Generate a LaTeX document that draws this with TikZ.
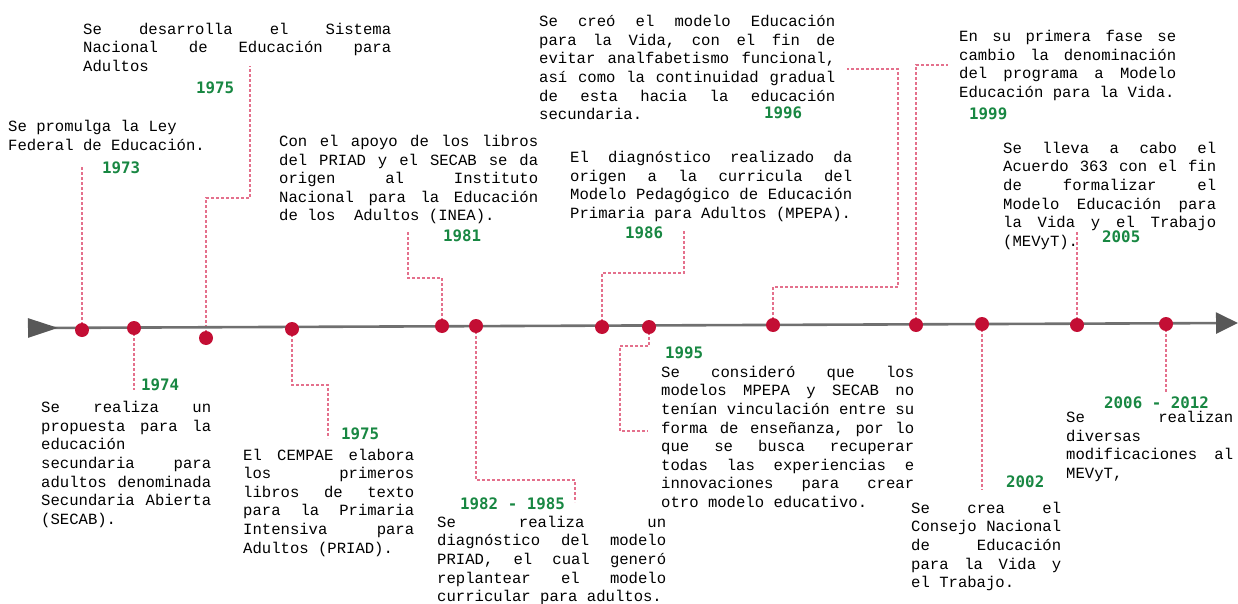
\documentclass[tikz,border=0pt]{standalone}
\usepackage{xcolor}
\usepackage{fontspec}
\usepackage{tikz}
\usetikzlibrary{arrows.meta, positioning, backgrounds}
\newfontfamily\bodyfont{Liberation Mono}
\newfontfamily\yearfont{DejaVu Sans Mono}
\definecolor{dotred}{RGB}{195, 14, 52}
\definecolor{yeargreen}{RGB}{24, 135, 66}
\definecolor{linkpink}{RGB}{228, 112, 140}
\definecolor{axisgray}{RGB}{112, 112, 112}
\definecolor{tipgray}{RGB}{88, 88, 88}
% one justified line of a description
\newcommand{\jl}[1]{\leavevmode\hbox to\linewidth{\spaceskip=.6em plus 1fil\relax #1}}
\tikzstyle{event} = [circle, fill=dotred, inner sep=0pt, minimum size=14pt]
\tikzstyle{year} = [anchor=base west, inner sep=0pt, text=yeargreen, font=\yearfont\fontsize{15.8pt}{19pt}\selectfont\bfseries]
\tikzstyle{desc} = [anchor=base west, inner sep=0pt, font=\bodyfont\fontsize{15.6pt}{18.6pt}\selectfont\frenchspacing]
\tikzstyle{link} = [linkpink, line width=1.2pt, dash pattern=on 3pt off 2pt]
\tikzstyle{axis} = [axisgray, line width=2.6pt, {Triangle[reversed, length=30pt, width=19pt, color=tipgray]}-{Triangle[length=22pt, width=21pt, color=tipgray]}]

\begin{document}
\begin{tikzpicture}[x=1pt, y=-1pt]
    \useasboundingbox (0,0) rectangle (1238,604);

    % Time axis
    \coordinate (start) at (28,328);
    \coordinate (end) at (1238,323);
    \draw[axis] (start) -- (end);

    % Events on the axis
    \node[event] (d73) at (82,330) {};
    \node[event] (d74) at (134,328) {};
    \node[event] (d75a) at (206,338) {};
    \node[event] (d75b) at (292,329) {};
    \node[event] (d81) at (442,326) {};
    \node[event] (d82) at (476,326) {};
    \node[event] (d86) at (602,327) {};
    \node[event] (d95) at (649,327) {};
    \node[event] (d96) at (773,325) {};
    \node[event] (d99) at (916,325) {};
    \node[event] (d02) at (982,324) {};
    \node[event] (d05) at (1077,325) {};
    \node[event] (d06) at (1166,324) {};

    % Ends and bends of the dotted leaders
    \coordinate (c73) at (82,166);
    \coordinate (b75a) at (250,198);
    \coordinate (c75a) at (250,66);
    \coordinate (c74) at (134,390);
    \coordinate (b75b) at (328,385);
    \coordinate (c75b) at (328,438);
    \coordinate (b81) at (408,278);
    \coordinate (c81) at (408,232);
    \coordinate (b82) at (575,480);
    \coordinate (c82) at (575,502);
    \coordinate (b86) at (684,273);
    \coordinate (c86) at (684,230);
    \coordinate (b95) at (620,346);
    \coordinate (e95) at (620,431);
    \coordinate (c95) at (648,431);
    \coordinate (b96) at (898,287);
    \coordinate (e96) at (898,69);
    \coordinate (c96) at (847,69);
    \coordinate (c99) at (948,65);
    \coordinate (c02) at (982,490);
    \coordinate (c05) at (1077,232);
    \coordinate (c06) at (1166,392);

    \begin{scope}[on background layer]
        \draw[link] (d73.center) -- (c73);
        \draw[link] (d75a.center) |- (b75a) -- (c75a);
        \draw[link] (d74.center) -- (c74);
        \draw[link] (d75b.center) |- (b75b) -- (c75b);
        \draw[link] (d81.center) |- (b81) -- (c81);
        \draw[link] (d82.center) |- (b82) -- (c82);
        \draw[link] (d86.center) |- (b86) -- (c86);
        \draw[link] (d95.center) |- (b95) -- (e95) -- (c95);
        \draw[link] (d96.center) |- (b96) -- (e96) -- (c96);
        \draw[link] (d99.center) |- (c99);
        \draw[link] (d02.center) -- (c02);
        \draw[link] (d05.center) -- (c05);
        \draw[link] (d06.center) -- (c06);
    \end{scope}

    % Above the axis
    \node[desc] (t73) at (8,131.5) {\parbox[t]{220pt}{Se promulga la Ley\\Federal de Educación.}};
    \node[year] (y73) at (102,173.3) {1973};

    \node[desc] (t75a) at (83,34.3) {\parbox[t]{308pt}{\jl{Se desarrolla el Sistema}\\\jl{Nacional de Educación para}\\Adultos}};
    \node[year] (y75a) at (196,93.3) {1975};

    \node[desc] (t81) at (279,146.5) {\parbox[t]{259pt}{\jl{Con el apoyo de los libros}\\\jl{del PRIAD y el SECAB se da}\\\jl{origen al Instituto}\\\jl{Nacional para la Educación}\\de los~ Adultos (INEA).}};
    \node[year] (y81) at (443,241.7) {1981};

    \node[desc] (t96) at (539,26.7) {\parbox[t]{296pt}{\jl{Se creó el modelo Educación}\\\jl{para la Vida, con el fin de}\\\jl{evitar analfabetismo funcional,}\\\jl{así como la continuidad gradual}\\\jl{de esta hacia la educación}\\secundaria.}};
    \node[year] (y96) at (764,118.3) {1996};

    \node[desc] (t86) at (570,162.7) {\parbox[t]{282pt}{\jl{El diagnóstico realizado da}\\\jl{origen a la curricula del}\\\jl{Modelo Pedagógico de Educación}\\Primaria para Adultos (MPEPA).}};
    \node[year] (y86) at (625,238.3) {1986};

    \node[desc] (t99) at (959,41.7) {\parbox[t]{217pt}{\jl{En su primera fase se}\\\jl{cambio la denominación}\\\jl{del programa a Modelo}\\Educación para la Vida.}};
    \node[year] (y99) at (969,119.3) {1999};

    \node[desc] (t05) at (1003,153.3) {\parbox[t]{213pt}{\jl{Se lleva a cabo el}\\\jl{Acuerdo 363 con el fin}\\\jl{de formalizar el}\\\jl{Modelo Educación para}\\\jl{la Vida y el Trabajo}\\(MEVyT).}};
    \node[year] (y05) at (1102,242.7) {2005};

    % Below the axis
    \node[year] (y74) at (141,390.7) {1974};
    \node[desc] (t74) at (41,412.7) {\parbox[t]{170pt}{\jl{Se realiza un}\\\jl{propuesta para la}\\educación\\\jl{secundaria para}\\\jl{adultos denominada}\\\jl{Secundaria Abierta}\\(SECAB).}};

    \node[year] (y75b) at (341,439.3) {1975};
    \node[desc] (t75b) at (243,460) {\parbox[t]{171pt}{\jl{El CEMPAE elabora}\\\jl{los primeros}\\\jl{libros de texto}\\\jl{para la Primaria}\\\jl{Intensiva para}\\Adultos (PRIAD).}};

    \node[year] (y82) at (460,509.3) {1982 - 1985};
    \node[desc] (t82) at (437,527.3) {\parbox[t]{229pt}{\jl{Se realiza un}\\\jl{diagnóstico del modelo}\\\jl{PRIAD, el cual generó}\\\jl{replantear el modelo}\\curricular para adultos.}};

    \node[year] (y95) at (665,358.3) {1995};
    \node[desc] (t95) at (661,377.3) {\parbox[t]{253pt}{\jl{Se consideró que los}\\\jl{modelos MPEPA y SECAB no}\\\jl{tenían vinculación entre su}\\\jl{forma de enseñanza, por lo}\\\jl{que se busca recuperar}\\\jl{todas las experiencias e}\\\jl{innovaciones para crear}\\otro modelo educativo.}};

    \node[year] (y02) at (1006,487.3) {2002};
    \node[desc] (t02) at (911,513.3) {\parbox[t]{150pt}{\jl{Se crea el}\\\jl{Consejo Nacional}\\\jl{de Educación}\\\jl{para la Vida y}\\el Trabajo.}};

    \node[year] (y06) at (1104,408.3) {2006 - 2012};
    \node[desc] (t06) at (1066,422.7) {\parbox[t]{167pt}{\jl{Se realizan}\\diversas\\\jl{modificaciones al}\\MEVyT,}};
\end{tikzpicture}
\end{document}
